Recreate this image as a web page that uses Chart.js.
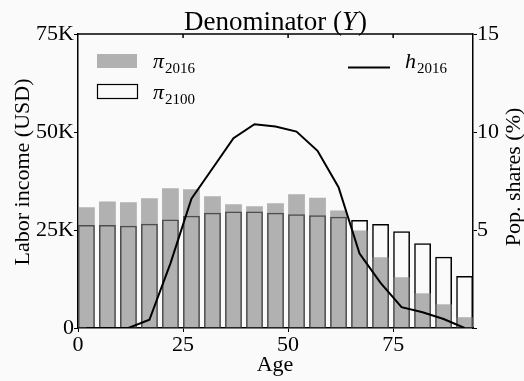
<!DOCTYPE html>
<html>
<head>
<meta charset="utf-8">
<script src="https://cdn.jsdelivr.net/npm/chart.js@4/dist/chart.umd.min.js"></script>
<style>
  html, body { margin: 0; padding: 0; background: #fafafa; }
  #wrap { width: 524px; height: 381px; }
</style>
</head>
<body>
<div id="wrap"><canvas id="chart" width="524" height="381"></canvas></div>
<script>
// age groups (bar centres, one per 5-year band)
var ages = [2, 7, 12, 17, 22, 27, 32, 37, 42, 47, 52, 57, 62, 67, 72, 77, 82, 87, 92];
// population shares (%), right axis
var pi2016 = [6.16, 6.46, 6.41, 6.62, 7.13, 7.08, 6.72, 6.31, 6.21, 6.36, 6.82, 6.65, 6.0, 4.98, 3.61, 2.59, 1.77, 1.21, 0.55];
var pi2100 = [5.26, 5.26, 5.22, 5.32, 5.53, 5.73, 5.88, 5.94, 5.94, 5.88, 5.80, 5.75, 5.68, 5.51, 5.31, 4.93, 4.32, 3.64, 2.65];
// labor income (USD), left axis
var h2016 = [0, 0, 0, 2100, 16500, 33000, 40700, 48400, 52000, 51400, 50100, 45200, 35900, 19000, 11500, 5300, 4000, 2300, 0];
var ageTicks = [0, 25, 50, 75];
var incomeTicks = [0, 25000, 50000, 75000];
var shareTicks = [0, 5, 10, 15];

var SERIF = '"Liberation Serif", "DejaVu Serif", serif';

function pts(xs, ys) {
    return xs.map(function(x, i) { return { x: x, y: ys[i] }; });
}

// draws background, frame, top ticks, title, axis titles and legend
var decor = {
    id: 'decor',
    beforeDraw: function(chart) {
        var c = chart.ctx;
        c.save();
        c.fillStyle = '#fafafa';
        c.fillRect(0, 0, chart.width, chart.height);
        c.restore();
    },
    afterDraw: function(chart) {
        var c = chart.ctx, a = chart.chartArea, xs = chart.scales.x;
        c.save();
        // top frame line + inward ticks
        c.strokeStyle = '#000';
        c.lineWidth = 1.5;
        c.beginPath();
        c.moveTo(a.left, a.top);
        c.lineTo(a.right, a.top);
        [25, 50, 75].forEach(function(v) {
            var px = xs.getPixelForValue(v);
            c.moveTo(px, a.top);
            c.lineTo(px, a.top + 4);
        });
        c.stroke();

        // title with italic Y
        c.fillStyle = '#000';
        c.textBaseline = 'alphabetic';
        var p1 = 'Denominator (', p2 = 'Y', p3 = ')';
        c.font = '27px ' + SERIF;
        var w1 = c.measureText(p1).width, w3 = c.measureText(p3).width;
        c.font = 'italic 27px ' + SERIF;
        var w2 = c.measureText(p2).width;
        var tx = 275 - (w1 + w2 + w3) / 2;
        c.font = '27px ' + SERIF;
        c.fillText(p1, tx, 30);
        c.font = 'italic 27px ' + SERIF;
        c.fillText(p2, tx + w1, 30);
        c.font = '27px ' + SERIF;
        c.fillText(p3, tx + w1 + w2 + 1, 30);

        // axis titles
        c.font = '22px ' + SERIF;
        c.textAlign = 'center';
        c.fillText('Age', 275, 371);
        c.save();
        c.translate(29, 172);
        c.rotate(-Math.PI / 2);
        c.fillText('Labor income (USD)', 0, 0);
        c.restore();
        c.save();
        c.translate(520, 177);
        c.rotate(-Math.PI / 2);
        c.fillText('Pop. shares (%)', 0, 0);
        c.restore();

        // legend
        c.textAlign = 'left';
        c.fillStyle = 'rgba(128,128,128,0.6)';
        c.fillRect(97, 54, 40, 14);
        c.strokeStyle = '#000';
        c.lineWidth = 1.2;
        c.strokeRect(97.5, 84.5, 40, 14);
        c.lineWidth = 2;
        c.beginPath();
        c.moveTo(348, 67.5);
        c.lineTo(390, 67.5);
        c.stroke();

        c.fillStyle = '#000';
        function mathLabel(sym, sub, x, y) {
            c.font = 'italic 22px ' + SERIF;
            c.fillText(sym, x, y);
            var w = c.measureText(sym).width;
            c.font = '15px ' + SERIF;
            c.fillText(sub, x + w + 1, y + 5);
        }
        mathLabel('\u03c0', '2016', 153, 68);
        mathLabel('\u03c0', '2100', 153, 99);
        mathLabel('h', '2016', 405, 68);
        c.restore();
    }
};

var ctx = document.getElementById('chart').getContext('2d');
new Chart(ctx, {
    type: 'bar',
    data: {
        datasets: [
            {
                type: 'line',
                label: 'h2016',
                data: pts(ages, h2016),
                yAxisID: 'y',
                borderColor: '#000',
                borderWidth: 2,
                pointRadius: 0,
                tension: 0,
                fill: false,
                order: -1
            },
            {
                label: '\u03c02016',
                data: pts(ages, pi2016),
                yAxisID: 'y1',
                backgroundColor: 'rgba(128,128,128,0.6)',
                borderWidth: 0,
                order: 0
            },
            {
                label: '\u03c02100',
                data: pts(ages, pi2100),
                yAxisID: 'y1',
                backgroundColor: 'rgba(0,0,0,0)',
                borderColor: '#000',
                borderWidth: 1.5,
                order: 1
            }
        ]
    },
    options: {
        responsive: false,
        animation: false,
        layout: { padding: { top: 34, left: 0, right: 0, bottom: 0 } },
        datasets: {
            bar: { grouped: false, barPercentage: 0.8, categoryPercentage: 1.0 }
        },
        plugins: {
            legend: { display: false },
            tooltip: { enabled: false },
            title: { display: false }
        },
        scales: {
            x: {
                type: 'linear',
                min: 0,
                max: 94,
                offset: false,
                afterBuildTicks: function(s) { s.ticks = ageTicks.map(function(v) { return { value: v }; }); },
                afterFit: function(s) { s.height = 53; },
                grid: { drawOnChartArea: false, drawTicks: true, tickLength: 4, color: '#000', offset: false },
                border: { display: true, color: '#000', width: 1.5 },
                ticks: { color: '#000', font: { family: SERIF, size: 22 }, padding: 0, maxRotation: 0 }
            },
            y: {
                position: 'left',
                min: 0,
                max: 75000,
                afterBuildTicks: function(s) { s.ticks = incomeTicks.map(function(v) { return { value: v }; }); },
                afterFit: function(s) { s.width = 78; },
                grid: { drawOnChartArea: false, drawTicks: true, tickLength: 4, color: '#000' },
                border: { display: true, color: '#000', width: 1.5 },
                ticks: {
                    color: '#000',
                    font: { family: SERIF, size: 22 },
                    padding: 0,
                    callback: function(v) { return v === 0 ? '0' : (v / 1000) + 'K'; }
                }
            },
            y1: {
                position: 'right',
                min: 0,
                max: 15,
                afterBuildTicks: function(s) { s.ticks = shareTicks.map(function(v) { return { value: v }; }); },
                afterFit: function(s) { s.width = 51; },
                grid: { drawOnChartArea: false, drawTicks: true, tickLength: 4, color: '#000' },
                border: { display: true, color: '#000', width: 1.5 },
                ticks: {
                    color: '#000',
                    font: { family: SERIF, size: 22 },
                    padding: 0,
                    callback: function(v) { return v === 0 ? '' : String(v); }
                }
            }
        }
    },
    plugins: [decor]
});
</script>
</body>
</html>
